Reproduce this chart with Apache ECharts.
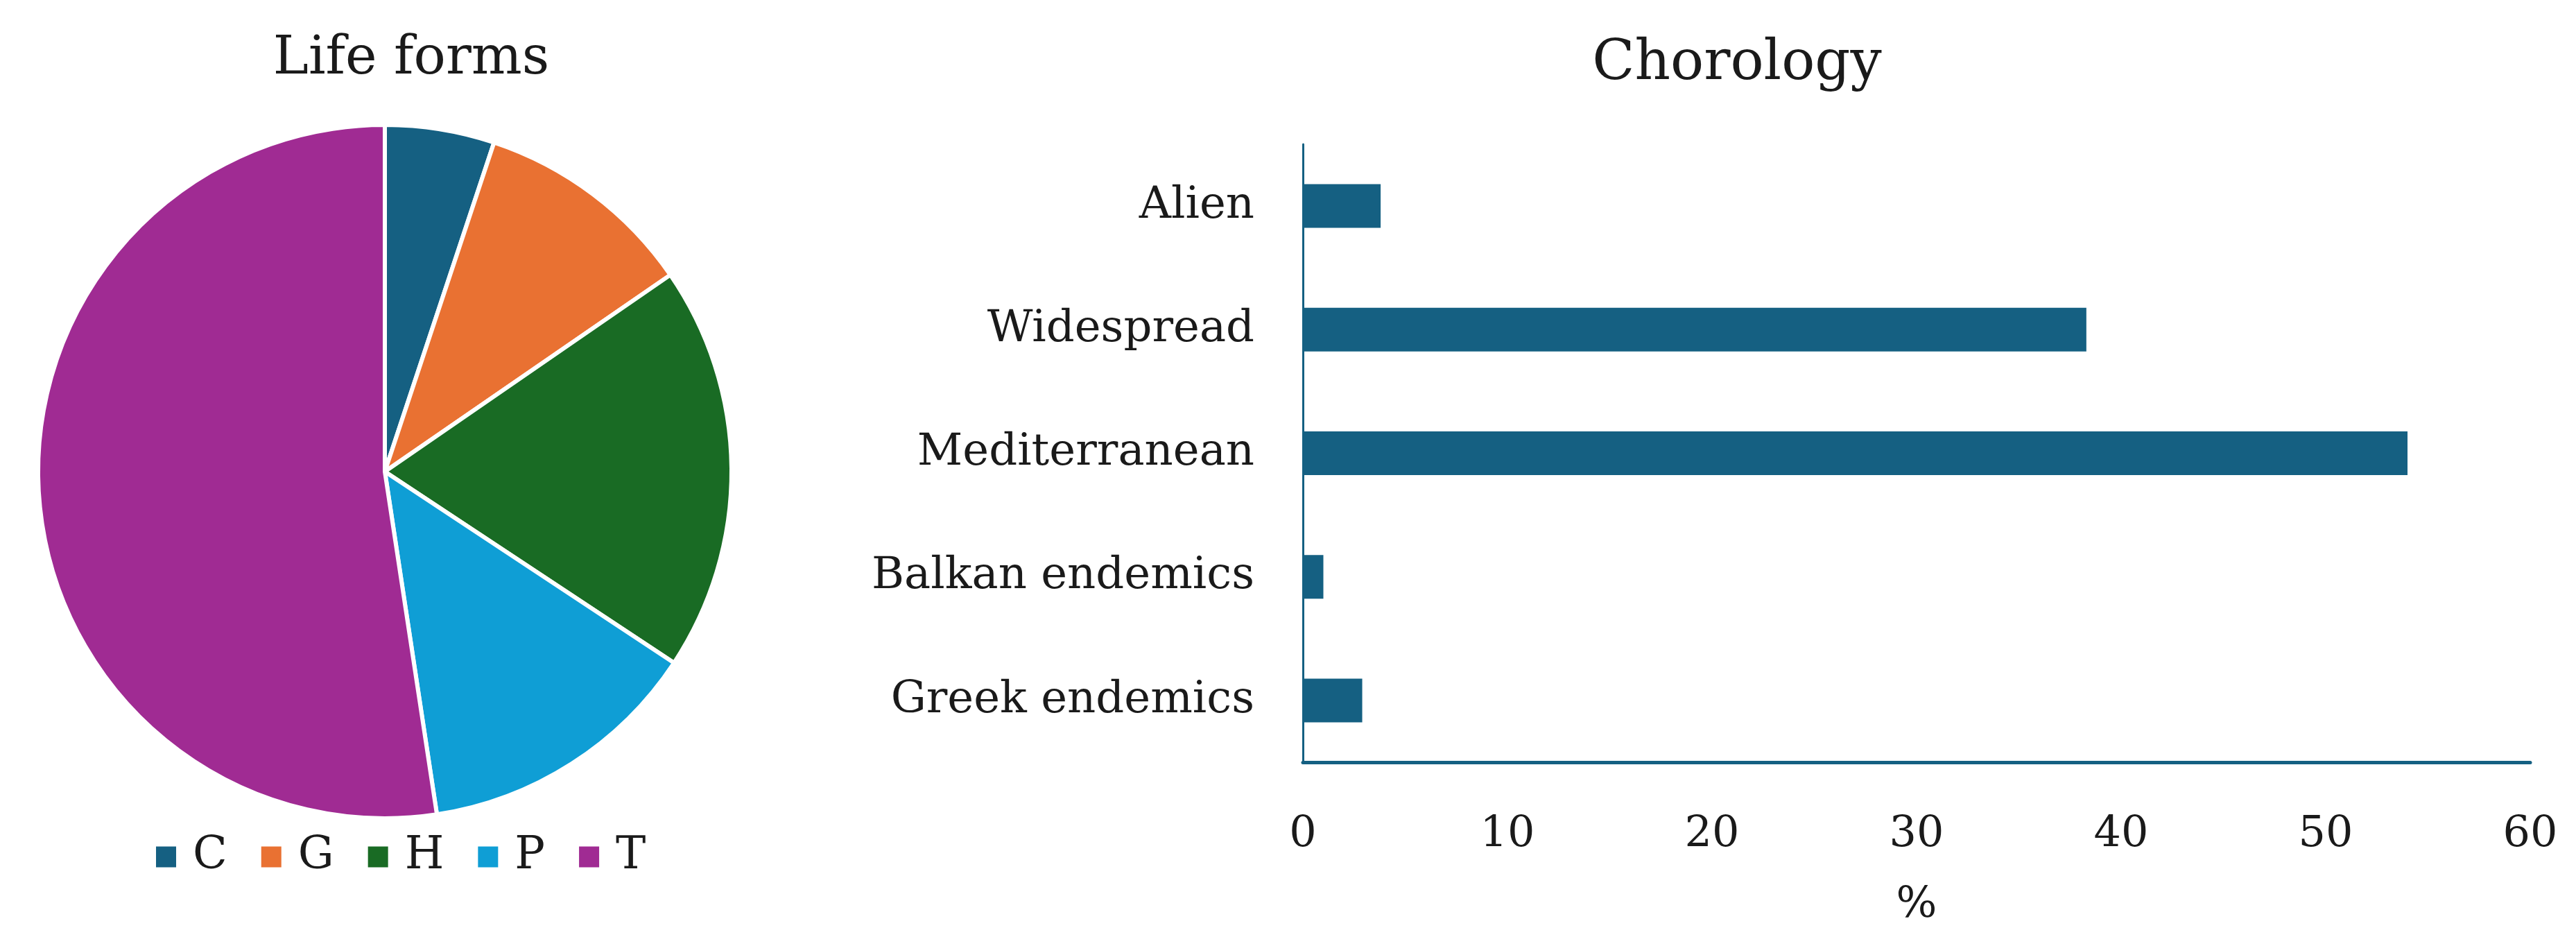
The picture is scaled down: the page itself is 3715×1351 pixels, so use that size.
<!DOCTYPE html>
<html>
<head>
<meta charset="utf-8">
<script src="https://cdn.jsdelivr.net/npm/echarts@6/dist/echarts.min.js"></script>
<style>
html,body{margin:0;padding:0;background:#fff;}
#chart{width:3715px;height:1351px;}
</style>
</head>
<body>
<div id="chart"></div>
<script>
// Life forms (pie), percent
const lifeFormNames = ['C', 'G', 'H', 'P', 'T'];
const lifeFormValues = [5.1, 10.3, 18.9, 13.3, 52.4];
const lifeFormColors = ['#156082', '#E97132', '#196B24', '#0F9ED5', '#A02B93'];

// Chorology (bars), percent; listed bottom -> top as drawn on the category axis
const chorologyCategories = ['Greek endemics', 'Balkan endemics', 'Mediterranean', 'Widespread', 'Alien'];
const chorologyValues = [2.9, 1.0, 54.0, 38.3, 3.8];
const barColor = '#156082';

const xTicks = { min: 0, max: 60, interval: 10 };
const FONT = 'DejaVu Serif';

const chart = echarts.init(document.getElementById('chart'), null, { renderer: 'canvas' });
chart.setOption({
  animation: false,
  backgroundColor: '#ffffff',
  title: [
    { text: 'Life forms', left: 588, top: 42, textAlign: 'center',
      textStyle: { fontFamily: FONT, fontSize: 77, fontWeight: 'normal', color: '#1a1a1a' } },
    { text: 'Chorology', left: 2500, top: 48, textAlign: 'center',
      textStyle: { fontFamily: FONT, fontSize: 80, fontWeight: 'normal', color: '#1a1a1a' } }
  ],
  legend: {
    data: lifeFormNames,
    left: 218, top: 1198,
    icon: 'rect', itemWidth: 31, itemHeight: 32, itemGap: 47,
    textStyle: { fontFamily: FONT, fontSize: 65, color: '#1a1a1a', padding: [0, 0, 0, 18] }
  },
  grid: { left: 1879, right: 66, top: 208, bottom: 252, containLabel: false },
  xAxis: {
    type: 'value', min: xTicks.min, max: xTicks.max, interval: xTicks.interval,
    name: '%', nameLocation: 'middle', nameGap: 176,
    nameTextStyle: { fontFamily: FONT, fontSize: 62, color: '#1a1a1a' },
    axisLine: { show: true, lineStyle: { color: barColor, width: 5 } },
    axisTick: { show: false },
    splitLine: { show: false },
    axisLabel: { fontFamily: FONT, fontSize: 62, color: '#1a1a1a', margin: 74 }
  },
  yAxis: {
    type: 'category', data: chorologyCategories,
    axisLine: { show: true, lineStyle: { color: barColor, width: 3 } },
    axisTick: { show: false },
    splitLine: { show: false },
    axisLabel: { fontFamily: FONT, fontSize: 64, color: '#1a1a1a', margin: 70 }
  },
  series: [
    {
      type: 'pie', center: [555, 680], radius: 500, startAngle: 90, clockwise: true,
      label: { show: false }, labelLine: { show: false },
      itemStyle: { borderColor: '#ffffff', borderWidth: 6 },
      emphasis: { disabled: true },
      data: lifeFormNames.map((n, i) => ({ name: n, value: lifeFormValues[i], itemStyle: { color: lifeFormColors[i] } }))
    },
    {
      type: 'bar', data: chorologyValues, barWidth: 63,
      itemStyle: { color: barColor },
      emphasis: { disabled: true }
    }
  ]
});
</script>
</body>
</html>
